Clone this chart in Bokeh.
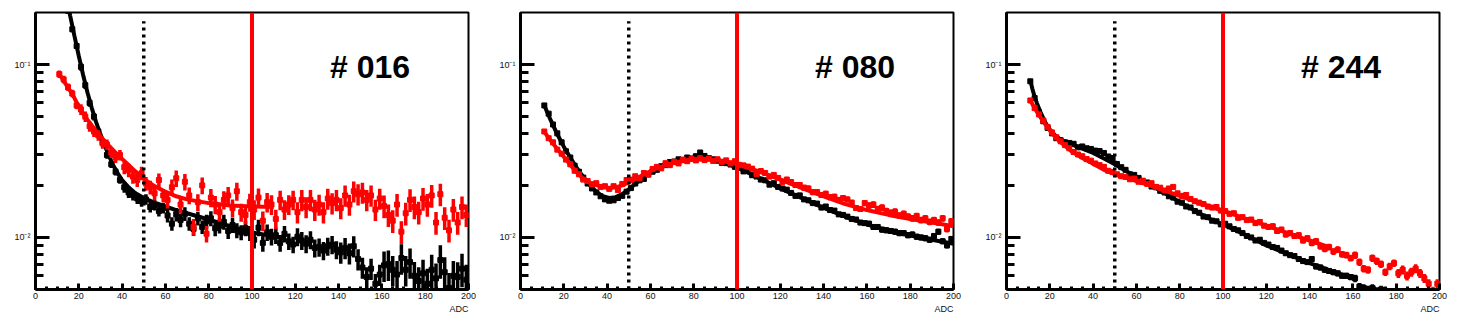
import numpy as np
from bokeh.plotting import figure
from bokeh.layouts import row
from bokeh.models import (FixedTicker, CustomJSTickFormatter, Range1d,
                          ColumnDataSource, Label, Span, Title)
from bokeh.embed import file_html
from bokeh.resources import INLINE

# ---------------- data (values in units of 1e-3) ----------------
SCALE = 1e-3
adc_centers = list(range(11, 200, 2))   # bin centres, bin width 2 ADC
bin_width = 2

p1_black = [320, 250, 205, 160, 128, 97, 76, 60, 50, 41,
            35.5, 30, 26.5, 24, 21.5, 19.5, 18.2, 17.6, 16.8, 16.2,
            16.6, 15, 15.4, 14.2, 14.8, 13.4, 12, 13.6, 12.6, 13.7,
            12, 11.2, 12.9, 11.5, 12.4, 12.9, 11.3, 11.7, 12.3, 10.9,
            11.8, 11, 10.7, 11.3, 10.6, 9.7, 11.4, 9.3, 10.7, 10.1,
            10.3, 9.3, 10.5, 9.5, 9.1, 10.1, 9.6, 9.2, 9.7, 8.7,
            8.8, 8.4, 8.9, 9.1, 8.5, 8.2, 8.7, 8.1, 8.9, 7.5,
            6.7, 5.9, 6.6, 5.4, 6.1, 6.9, 7.0, 6.5, 6.1, 7.6,
            6.5, 7.2, 6.0, 5.6, 6.2, 5.4, 6.5, 5.8, 7.4, 6.3,
            5.1, 6.0, 5.9, 6.6, 5.7]
p1_red = [88, 82, 74, 68, 58, 55, 50, 44, 41, 39,
          35, 34.5, 31, 29, 30, 25.5, 24.5, 22.5, 21.5, 23.5,
          20.5, 19.5, 18, 21.5, 17.5, 16.5, 19.5, 22, 15.5, 21,
          17.5, 11.5, 16, 20, 10.5, 17, 15.5, 14, 16.5, 17.5,
          14.8, 18.5, 14, 13.5, 16, 14.5, 17, 12.5, 16, 15.5,
          12.8, 16.5, 14.5, 15.5, 16.5, 14, 16.5, 15, 16.5, 14.5,
          15.5, 14, 16.8, 15.8, 16.5, 14.8, 17.5, 15.5, 18.5, 17.8,
          18.2, 16.5, 17.5, 14.5, 16.8, 15.2, 13.5, 12.5, 15.5, 10.8,
          13.8, 16.5, 15, 14, 16.8, 15.5, 17.5, 12.2, 17.8, 13,
          11, 14.5, 12.2, 15, 13.5]
p1_black_fit_x = [14, 16, 18, 20, 22, 24, 26, 28, 30, 32, 34, 36, 38, 40, 43, 46,
                  50, 55, 60, 65, 70, 80, 90, 100, 115]
p1_black_fit_y = [255, 192, 146, 112, 87, 69, 56, 46.5, 39.5, 34, 29.5, 26, 23.5, 21.5,
                  19.5, 18.1, 16.9, 15.9, 15.1, 14.4, 13.8, 12.7, 11.6, 10.7, 9.9]
p1_red_fit_x = [11, 14, 16, 18, 20, 22, 24, 26, 28, 30, 34, 38, 42, 46, 50, 55, 60, 65,
                70, 80, 90, 100, 110]
p1_red_fit_y = [88, 77, 70.5, 64, 57, 52, 48, 44.5, 41.2, 38.4, 33.8, 30, 27, 24.2, 21.8,
                19.8, 18.4, 17.3, 16.6, 15.8, 15.3, 15.1, 15.0]
p1_black_relerr = [0.04, 0.05, 0.07, 0.09, 0.10, 0.11, 0.12, 0.14, 0.20, 0.22]
p1_red_relerr = [0.05, 0.07, 0.09, 0.11, 0.12, 0.13, 0.14, 0.14, 0.15, 0.15]

p2_black = [58, 52, 45, 40, 35.5, 31.5, 29, 26, 24, 22.2,
            20.5, 19.2, 18.2, 17.3, 16.6, 16.3, 16.4, 16.9, 17.4, 18.4,
            19.3, 20.5, 21.4, 21.8, 23.1, 24, 24.6, 25.8, 26.2, 27.3,
            27.5, 28.3, 28, 29, 28.6, 29.5, 31, 29.6, 28.8, 28.3,
            27.8, 27, 26.9, 26.4, 25.6, 25.2, 24.1, 24.3, 22.9, 22.5,
            21.6, 21.4, 20.2, 20.6, 19.6, 19.2, 18.9, 18.1, 17.4, 17.5,
            16.6, 16.4, 15.8, 15.7, 14.9, 15.1, 14.4, 14.3, 13.6, 13.5,
            13.2, 12.8, 12.7, 12.2, 12.1, 12.0, 11.5, 11.5, 11.1, 11.0,
            10.9, 10.8, 10.6, 10.6, 10.3, 10.4, 10.1, 10.0, 9.9, 9.7,
            10.2, 10.8, 9.5, 9.0, 9.8]
p2_red = [41, 37.5, 35.5, 32.2, 30.5, 28.2, 26.5, 24.3, 23.2, 21.6,
          21.2, 20.3, 20.6, 19.6, 19.8, 19.1, 19.8, 18.8, 20.4, 21.5,
          21.6, 22.6, 22, 23.6, 23.2, 24.9, 25.6, 25.1, 26.9, 26.2,
          27.4, 26.8, 28.2, 27.6, 28.5, 27.9, 28.7, 28, 28.6, 27.7,
          28.3, 27.4, 27.9, 26.8, 27.6, 26.3, 26.1, 25.7, 25, 23.3,
          24.2, 23.6, 22.5, 23, 22.1, 21, 21.6, 20.9, 20.1, 20.1,
          19.4, 19.2, 18.3, 18.3, 17.6, 17.9, 17.1, 17.2, 16.5, 16.9,
          16.6, 15.9, 14.8, 14.6, 15.8, 15.3, 15.5, 14.6, 14.9, 14.2,
          13.9, 14.1, 13.4, 13.7, 13.2, 12.9, 13.3, 12.6, 12.9, 12.3,
          12.6, 12.2, 12.9, 11.2, 12.4]
p2_black_fit_x = [11, 14, 17, 20, 23, 26, 29, 32, 35, 38, 41, 44, 47, 50, 54, 58, 62, 66,
                  70, 74, 78, 82, 86, 90, 95, 100, 110, 120, 130, 140, 150, 160, 170,
                  180, 190, 200]
p2_black_fit_y = [58, 47.5, 39.5, 33.5, 29, 25.2, 22.4, 20.1, 18.4, 17.3, 16.9, 17.1,
                  17.8, 19.0, 20.9, 22.9, 24.6, 26.1, 27.3, 28.2, 28.8, 29.0, 28.8, 28.1,
                  26.9, 25.4, 22.2, 19.2, 16.9, 14.8, 13.2, 11.9, 10.9, 10.3, 9.7, 9.2]
p2_red_fit_x = [11, 14, 17, 20, 23, 26, 29, 32, 35, 38, 41, 44, 47, 50, 54, 58, 62, 66,
                70, 75, 80, 85, 90, 95, 100, 110, 120, 130, 140, 150, 160, 170, 180,
                190, 200]
p2_red_fit_y = [40.8, 36.2, 32.5, 29.3, 26.3, 23.8, 21.8, 20.7, 20.1, 19.6, 19.3, 19.5,
                20.0, 20.8, 22.1, 23.5, 24.8, 25.9, 26.8, 27.7, 28.2, 28.3, 28.0, 27.4,
                26.7, 24.1, 21.6, 19.3, 17.3, 15.6, 14.4, 13.5, 12.8, 12.2, 11.6]
p2_black_relerr = [0.02, 0.02, 0.025, 0.025, 0.03, 0.03, 0.035, 0.035, 0.04, 0.04]
p2_red_relerr = [0.025, 0.025, 0.03, 0.03, 0.035, 0.035, 0.04, 0.04, 0.045, 0.045]

p3_black = [80, 64, 53, 47, 43, 40, 37.5, 36.5, 35.5, 35.2,
            34.8, 33.2, 33.6, 32.8, 32.5, 31.8, 31.6, 30.8, 29.4, 28.8,
            26.6, 25.5, 24.6, 23.2, 23.0, 22.1, 21.0, 20.8, 19.7, 19.5,
            18.6, 18.2, 17.3, 17.0, 16.1, 15.9, 15.1, 14.9, 14.2, 13.9,
            13.2, 13.1, 12.5, 12.4, 11.9, 12.0, 11.6, 11.2, 11.0, 10.6,
            10.2, 10.0, 9.6, 9.7, 9.3, 9.1, 8.8, 8.7, 8.4, 8.1,
            7.9, 7.8, 7.5, 7.3, 7.2, 7.5, 6.8, 6.7, 6.5, 6.4,
            6.3, 6.2, 6.0, 6.0, 5.9, 5.8, 5.2, 5.1, 5.0, 5.1,
            4.9, 5.0, 4.9, 4.8, 4.6, 4.6, 4.5, 4.4, 4.3, 4.2,
            4.1, 4.0, 3.9, 3.9, 3.8]
p3_red = [62, 56, 51.5, 47.5, 43.5, 40.5, 38, 36, 34.2, 32.8,
          31.2, 30.2, 29.5, 28.4, 27.8, 26.8, 26.2, 25.6, 24.3, 23.9,
          23.2, 22.6, 22.4, 21.7, 21.9, 21.0, 21.3, 20.4, 20.6, 19.6,
          19.4, 18.7, 19.2, 19.6, 18.0, 17.4, 17.6, 16.7, 16.2, 15.9,
          15.6, 15.1, 14.9, 15.0, 14.3, 14.2, 13.7, 13.8, 13.0, 13.1,
          12.6, 12.7, 12.1, 12.3, 11.7, 11.5, 11.6, 10.9, 11.1, 10.4,
          10.6, 10.2, 10.3, 9.6, 9.9, 9.3, 9.5, 8.9, 8.6, 8.8,
          8.3, 8.5, 8.0, 7.9, 7.6, 7.9, 7.2, 6.6, 6.5, 7.6,
          7.3, 7.0, 6.3, 6.8, 7.1, 6.2, 6.5, 6.0, 6.3, 6.6,
          6.2, 5.8, 5.4, 4.9, 5.4]
p3_black_fit_x = [11, 12, 13, 14, 16, 18, 20, 23, 26, 30, 35, 40, 45, 50, 55, 60, 65, 70,
                  75, 80, 85, 90, 95, 100, 110, 120, 130, 140, 150, 160]
p3_black_fit_y = [81, 72, 65, 60, 52, 46, 42, 38.3, 36.3, 34.5, 32.6, 30.8, 28.6, 26.5,
                  24.3, 22.4, 20.6, 19, 17.5, 16, 14.8, 13.6, 12.6, 11.9, 10.4, 9.0, 8.0,
                  7.1, 6.4, 5.8]
p3_red_fit_x = [11, 13, 15, 18, 21, 25, 30, 35, 40, 45, 50, 55, 60, 65, 70, 75, 80, 85,
                90, 95, 100, 110, 120, 130, 140, 150]
p3_red_fit_y = [62, 56, 51, 45, 40, 35.5, 31.5, 28.8, 26.7, 24.6, 23.2, 22.2, 21.2, 20.2,
                19.2, 18.3, 17.4, 16.5, 15.7, 14.9, 14.3, 12.9, 11.7, 10.6, 9.6, 8.7]
p3_black_relerr = [0.02, 0.02, 0.025, 0.025, 0.03, 0.03, 0.035, 0.04, 0.05, 0.06]
p3_red_relerr = [0.025, 0.025, 0.03, 0.03, 0.035, 0.035, 0.04, 0.045, 0.05, 0.06]

panel_tags = ["# 016", "# 080", "# 244"]
x_ticks = list(range(0, 201, 20))
x_minor = list(range(0, 201, 5))
y_major = [0.01, 0.1]
y_minor = [0.006, 0.007, 0.008, 0.009, 0.02, 0.03, 0.04, 0.05, 0.06, 0.07, 0.08, 0.09]
X_MIN, X_MAX = 0, 200
Y_MIN, Y_MAX = 0.005, 0.2
dotted_cut = 50
dotted_top = 0.178
red_cut = 100
tag_pos = (136, 0.0974)

BLACK = "#000000"
RED = "#ff0000"
FONT = "Liberation Sans"


def make_panel(black, red, bfx, bfy, rfx, rfy, brel, rrel, tag,
               width, b_left, b_right, b_top, b_bottom, height):
    p = figure(width=width, height=height,
               x_range=Range1d(X_MIN, X_MAX), y_range=Range1d(Y_MIN, Y_MAX),
               y_axis_type="log", output_backend="svg", toolbar_location=None,
               min_border_left=b_left, min_border_right=b_right,
               min_border_top=b_top, min_border_bottom=b_bottom)
    p.grid.visible = False
    p.background_fill_color = "white"
    p.border_fill_color = "white"
    p.outline_line_color = "black"
    p.outline_line_width = 2
    p.outline_line_alpha = 1

    xa = p.xaxis[0]
    xa.ticker = FixedTicker(ticks=x_ticks, minor_ticks=x_minor)
    xa.major_tick_in = 6
    xa.major_tick_out = 0
    xa.minor_tick_in = 3
    xa.minor_tick_out = 0
    xa.major_tick_line_width = 3
    xa.minor_tick_line_width = 3
    xa.axis_line_width = 3
    xa.major_label_text_font = FONT
    xa.major_label_text_font_size = "9px"
    xa.major_label_text_color = "#111111"
    xa.major_label_standoff = 3

    ya = p.yaxis[0]
    ya.ticker = FixedTicker(ticks=y_major, minor_ticks=y_minor)
    ya.formatter = CustomJSTickFormatter(
        code="return tick > 0.05 ? '10\u207b\u00b9' : '10\u207b\u00b2';")
    ya.major_tick_in = 14
    ya.major_tick_out = 0
    ya.minor_tick_in = 8
    ya.minor_tick_out = 0
    ya.major_tick_line_width = 3
    ya.minor_tick_line_width = 3
    ya.axis_line_width = 3
    ya.major_label_text_font = FONT
    ya.major_label_text_font_size = "9px"
    ya.major_label_text_color = "#111111"
    ya.major_label_standoff = 5

    x = np.array(adc_centers, dtype=float)

    def draw_points(vals, rel, col):
        y = np.array(vals, dtype=float) * SCALE
        r = np.array([rel[min(int(a // 20), 9)] for a in adc_centers])
        e = y * r
        src = ColumnDataSource(dict(x=x, y=y, lo=y - e, hi=y + e,
                                    xl=x - bin_width / 2, xr=x + bin_width / 2))
        p.segment("x", "lo", "x", "hi", source=src, line_color=col, line_width=3.5)
        p.segment("xl", "y", "xr", "y", source=src, line_color=col, line_width=3.5)
        p.scatter("x", "y", source=src, marker="square", size=5,
                  fill_color=col, line_color=col)

    def draw_fit(fx, fy, col):
        p.line(fx, [v * SCALE for v in fy], line_color=col, line_width=4)

    draw_points(black, brel, BLACK)
    draw_fit(bfx, bfy, BLACK)
    draw_points(red, rrel, RED)
    draw_fit(rfx, rfy, RED)

    p.segment(x0=[dotted_cut], y0=[Y_MIN], x1=[dotted_cut], y1=[dotted_top],
              line_color=BLACK, line_width=3.5, line_dash="3 4")
    p.add_layout(Span(location=red_cut, dimension="height",
                      line_color=RED, line_width=4))

    p.add_layout(Label(x=tag_pos[0], y=tag_pos[1], text=tag,
                       text_font=FONT, text_font_style="bold",
                       text_font_size="32px", text_color="black",
                       text_baseline="alphabetic", text_align="left"))
    p.add_layout(Title(text="ADC", align="right", text_font=FONT,
                       text_font_size="9px", text_font_style="normal",
                       text_color="#111111", standoff=0), "below")
    return p


p1 = make_panel(p1_black, p1_red, p1_black_fit_x, p1_black_fit_y,
                p1_red_fit_x, p1_red_fit_y, p1_black_relerr, p1_red_relerr,
                panel_tags[0], 492, 35, 24, 11, 31, 320)
p2 = make_panel(p2_black, p2_red, p2_black_fit_x, p2_black_fit_y,
                p2_red_fit_x, p2_red_fit_y, p2_black_relerr, p2_red_relerr,
                panel_tags[1], 486, 28, 25, 11, 31, 320)
p3 = make_panel(p3_black, p3_red, p3_black_fit_x, p3_black_fit_y,
                p3_red_fit_x, p3_red_fit_y, p3_black_relerr, p3_red_relerr,
                panel_tags[2], 470, 28, 9, 12, 30, 320)

layout = row(p1, p2, p3)
open("out.html", "w").write(file_html(layout, INLINE))
